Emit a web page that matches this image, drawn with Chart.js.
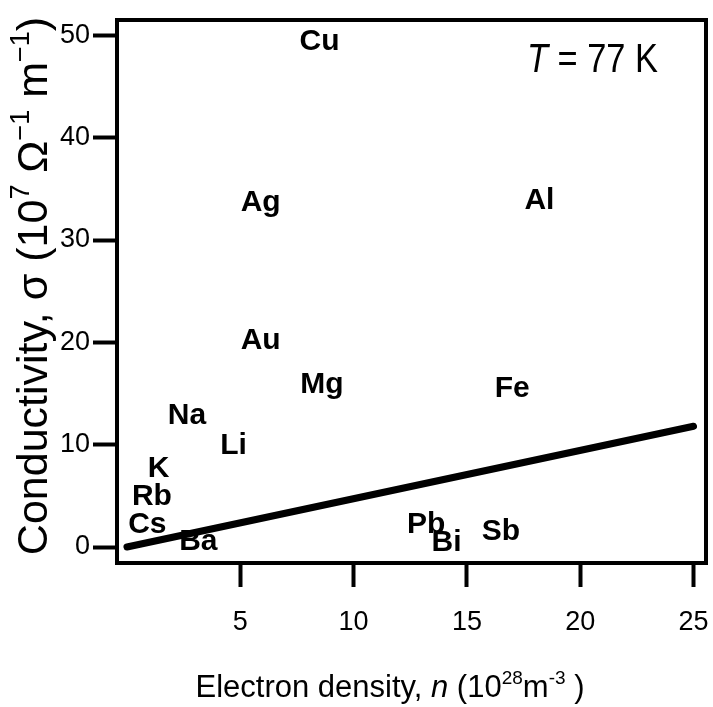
<!DOCTYPE html>
<html>
<head>
<meta charset="utf-8">
<title>Conductivity vs electron density</title>
<script src="https://cdn.jsdelivr.net/npm/chart.js@4.4.1/dist/chart.umd.min.js"></script>
<style>
  html, body { margin: 0; padding: 0; background: #fff; }
  canvas { display: block; }
</style>
</head>
<body>
<canvas id="chart" width="713" height="707"></canvas>
<script>
// ─── Data ────────────────────────────────────────────────────────────────────

const elements     = ['Cu', 'Ag', 'Au', 'Al', 'Mg', 'Na', 'Li', 'K', 'Rb', 'Cs', 'Ba', 'Fe', 'Pb', 'Bi', 'Sb'];
const density      = [8.5, 5.9, 5.9, 18.2, 8.6, 2.65, 4.7, 1.4, 1.1, 0.9, 3.15, 17.0, 13.2, 14.1, 16.5];
const conductivity = [49.4, 33.6, 20.2, 33.8, 15.9, 12.8, 9.9, 7.7, 4.9, 2.2, 0.5, 15.5, 2.2, 0.4, 1.5];

// free-electron prediction line
const lineX = [0, 25];
const lineY = [0, 11.8];

const xTicks = [5, 10, 15, 20, 25];
const yTicks = [0, 10, 20, 30, 40, 50];

const FONT = "'Liberation Sans', Arial, Helvetica, sans-serif";

// ─── Helpers ──────────────────────────────────────────────────────────────────

// draw a run of text pieces (normal / italic / superscript) centred on x
function drawRich(ctx, parts, size, x, y) {
  const fontFor = p => `${p.italic ? 'italic ' : ''}${p.sup ? Math.round(size * 0.62) : size}px ${FONT}`;
  let total = 0;
  parts.forEach(p => { ctx.font = fontFor(p); total += ctx.measureText(p.text).width; });
  let cx = x - total / 2;
  ctx.textAlign = 'left';
  ctx.textBaseline = 'alphabetic';
  parts.forEach(p => {
    ctx.font = fontFor(p);
    ctx.fillText(p.text, cx, p.sup ? y - size * 0.42 : y);
    cx += ctx.measureText(p.text).width;
  });
}

const xTitle = [
  { text: 'Electron density, ' }, { text: 'n', italic: true }, { text: ' (10' },
  { text: '28', sup: true }, { text: 'm' }, { text: '-3', sup: true }, { text: ' )' },
];
const yTitle = [
  { text: 'Conductivity, ' }, { text: 'σ' }, { text: ' (10' }, { text: '7', sup: true },
  { text: ' Ω' }, { text: '−1', sup: true }, { text: ' m' }, { text: '−1', sup: true }, { text: ')' },
];

// ─── Plugins ─────────────────────────────────────────────────────────────────

const labelPlugin = {
  id: 'elementLabels',
  afterDatasetsDraw(chart) {
    const ctx = chart.ctx;
    const meta = chart.getDatasetMeta(1);
    ctx.save();
    ctx.fillStyle = '#000';
    ctx.font = `bold 30px ${FONT}`;
    ctx.textAlign = 'center';
    ctx.textBaseline = 'middle';
    meta.data.forEach((pt, i) => ctx.fillText(elements[i], pt.x, pt.y));
    ctx.restore();
  }
};

const framePlugin = {
  id: 'frameAndTitles',
  afterDraw(chart) {
    const { ctx, chartArea: a } = chart;
    ctx.save();
    ctx.strokeStyle = '#000';
    ctx.lineWidth = 4;
    ctx.strokeRect(a.left, a.top, a.right - a.left, a.bottom - a.top);

    ctx.fillStyle = '#000';
    // x axis title
    drawRich(ctx, xTitle, 31, 390, 697);
    // y axis title, rotated
    ctx.save();
    ctx.translate(47, 286);
    ctx.rotate(-Math.PI / 2);
    drawRich(ctx, yTitle, 43, 0, 0);
    ctx.restore();

    // temperature note (narrow face)
    ctx.save();
    ctx.translate(527, 72);
    ctx.scale(0.86, 1);
    ctx.textAlign = 'left';
    ctx.textBaseline = 'alphabetic';
    ctx.font = `italic 40px ${FONT}`;
    ctx.fillText('T', 0, 0);
    const tw = ctx.measureText('T').width;
    ctx.font = `40px ${FONT}`;
    ctx.fillText(' = 77 K', tw, 0);
    ctx.restore();
    ctx.restore();
  }
};

// ─── Chart ───────────────────────────────────────────────────────────────────

const axisGrid = {
  display: true,
  drawOnChartArea: false,
  drawTicks: true,
  tickLength: 24,
  tickWidth: 4,
  tickColor: '#000',
};

new Chart(document.getElementById('chart'), {
  type: 'scatter',
  data: {
    datasets: [
      {
        data: lineX.map((x, i) => ({ x, y: lineY[i] })),
        showLine: true,
        borderColor: '#000',
        borderWidth: 7,
        borderCapStyle: 'round',
        pointRadius: 0,
      },
      {
        data: density.map((x, i) => ({ x, y: conductivity[i] })),
        pointRadius: 0,
        showLine: false,
      },
    ]
  },
  options: {
    responsive: false,
    animation: false,
    layout: { padding: { top: 20, right: 7, left: 0, bottom: 0 } },
    plugins: {
      legend: { display: false },
      tooltip: { enabled: false },
    },
    scales: {
      x: {
        type: 'linear',
        min: -0.44,
        max: 25.55,
        afterBuildTicks: s => { s.ticks = xTicks.map(v => ({ value: v })); },
        afterFit: s => { s.height = 144; s.paddingLeft = 0; s.paddingRight = 0; },
        grid: axisGrid,
        border: { display: false },
        ticks: { color: '#000', font: { family: FONT, size: 27 }, padding: 19, maxRotation: 0, autoSkip: false },
      },
      y: {
        type: 'linear',
        min: -1.56,
        max: 51.5,
        afterBuildTicks: s => { s.ticks = yTicks.map(v => ({ value: v })); },
        afterFit: s => { s.width = 117; s.paddingTop = 0; s.paddingBottom = 0; },
        grid: axisGrid,
        border: { display: false },
        ticks: { color: '#000', font: { family: FONT, size: 27 }, padding: 3, autoSkip: false },
      }
    }
  },
  plugins: [labelPlugin, framePlugin]
});
</script>
</body>
</html>
